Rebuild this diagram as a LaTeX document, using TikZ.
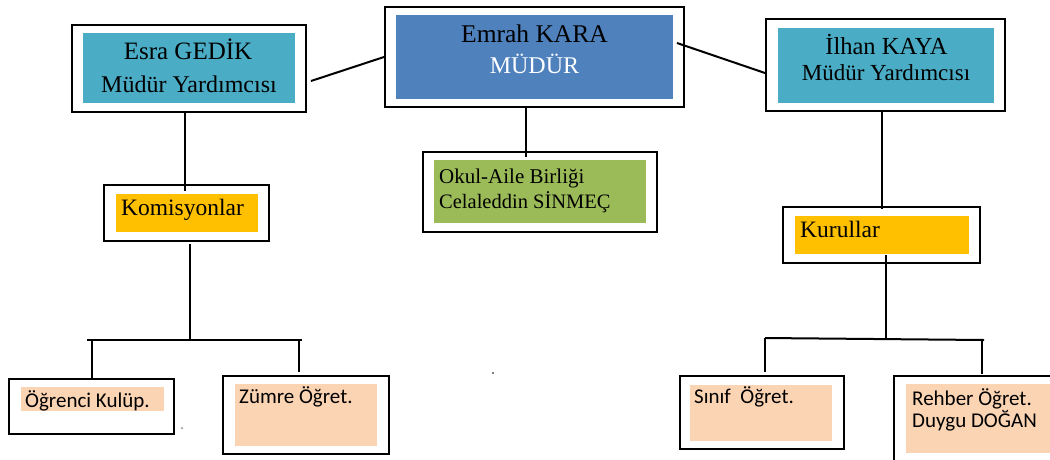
\documentclass[tikz,border=0pt]{standalone}
\usepackage{fontspec}
\setmainfont{Liberation Serif}
\newfontfamily\cambf{Liberation Serif}
\newfontfamily\calibf{Carlito}
\usetikzlibrary{calc}
\definecolor{teal1}{HTML}{4BACC6}
\definecolor{blue1}{HTML}{4F81BD}
\definecolor{green1}{HTML}{9BBB59}
\definecolor{gold1}{HTML}{FFC000}
\definecolor{peach1}{HTML}{FBD4B4}
\tikzset{
  outerbox/.style={draw=black, line width=2pt, fill=white, inner sep=0pt},
  conn/.style={draw=black, line width=2pt},
  lbl/.style={anchor=base, inner sep=0pt, text=black},
  lbll/.style={anchor=base west, inner sep=0pt, text=black},
}
\begin{document}
\begin{tikzpicture}[x=1pt,y=-1pt]
\useasboundingbox (0,0) rectangle (1050,459);
\fill[white] (0,0) rectangle (1050,459);

% outer boxes
\node[outerbox, minimum width=234pt, minimum height=87pt] (esra) at (189,68.5) {};
\node[outerbox, minimum width=299pt, minimum height=100pt] (emrah) at (534.5,57) {};
\node[outerbox, minimum width=239pt, minimum height=92pt] (ilhan) at (885.5,65) {};
\node[outerbox, minimum width=165pt, minimum height=56pt] (komis) at (186.5,213) {};
\node[outerbox, minimum width=234pt, minimum height=80pt] (okul) at (540,192) {};
\node[outerbox, minimum width=197pt, minimum height=56pt] (kurul) at (881.5,235) {};
\node[outerbox, minimum width=165pt, minimum height=55pt] (ogr) at (91.5,406.5) {};
\node[outerbox, minimum width=166pt, minimum height=78pt] (zumre) at (306,415) {};
\node[outerbox, minimum width=164pt, minimum height=73pt] (sinif) at (762,412.5) {};
\node[outerbox, minimum width=170pt, minimum height=100pt] (rehber) at (979,426) {};

% inner fills
\fill[teal1] (83,33) rectangle (295,103);
\fill[blue1] (396,15) rectangle (673,99);
\fill[teal1] (778,28) rectangle (994,103);
\fill[gold1] (116,194) rectangle (258,232);
\fill[green1] (434,160) rectangle (646,223);
\fill[gold1] (795,216) rectangle (969,254);
\fill[peach1] (21,387) rectangle (164,411);
\fill[peach1] (235,384) rectangle (377,446);
\fill[peach1] (690,385) rectangle (832,441);
\fill[peach1] (906,384) rectangle (1052,453);

% texts
\node[lbl, font=\cambf\fontsize{25}{30}\selectfont] (t1) at (188,59) {Esra GEDİK};
\node[lbl, font=\cambf\fontsize{24}{29}\selectfont] (t2) at (189,92) {Müdür Yardımcısı};
\node[lbl, font=\cambf\fontsize{25.5}{30}\selectfont] (t3) at (534.5,42) {Emrah KARA};
\node[lbl, font=\cambf\fontsize{24}{29}\selectfont, text=white] (t4) at (534.5,73) {MÜDÜR};
\node[lbl, font=\cambf\fontsize{24.5}{29}\selectfont] (t5) at (886.5,54) {İlhan KAYA};
\node[lbl, font=\cambf\fontsize{23}{28}\selectfont] (t6) at (886,80) {Müdür Yardımcısı};
\node[lbll, font=\cambf\fontsize{23.5}{28}\selectfont] (t7) at (121,215) {Komisyonlar};
\node[lbll, font=\cambf\fontsize{21}{25}\selectfont] (t8) at (439,183) {Okul-Aile Birliği};
\node[lbll, font=\cambf\fontsize{20.5}{25}\selectfont] (t9) at (439,208) {Celaleddin SİNMEÇ};
\node[lbll, font=\cambf\fontsize{23.5}{28}\selectfont] (t10) at (800,237) {Kurullar};
\node[lbll, font=\calibf\fontsize{21}{25}\selectfont] (t11) at (25,407) {Öğrenci Kulüp.};
\node[lbll, font=\calibf\fontsize{21}{25}\selectfont] (t12) at (239,403) {Zümre Öğret.};
\node[lbll, font=\calibf\fontsize{21}{25}\selectfont] (t13) at (694,403) {Sınıf~~Öğret.};
\node[lbll, font=\calibf\fontsize{21}{25}\selectfont] (t14) at (912,405) {Rehber Öğret.};
\node[lbll, font=\calibf\fontsize{21}{25}\selectfont] (t15) at (912,427) {Duygu DOĞAN};

% junction coordinates
\coordinate (kL) at (87,340);
\coordinate (kR) at (302,340);
\coordinate (kM) at (190,340);
\coordinate (rL) at (765,338);
\coordinate (rR) at (984,340);
\coordinate (rM) at (886,338);

% connectors
\draw[conn] ([xshift=4pt,yshift=-12.5pt]esra.east) -- (emrah.west);
\draw[conn] ([xshift=-8pt,yshift=14pt]emrah.east) -- ([yshift=-8pt]ilhan.west);
\draw[conn] ([xshift=-4pt]esra.south) -- ([xshift=-1.5pt,yshift=-7pt]komis.north);
\draw[conn] ([xshift=-8.5pt]emrah.south) -- ([xshift=-14pt,yshift=-6pt]okul.north);
\draw[conn] ([xshift=-3.5pt]ilhan.south) -- ([xshift=0.5pt,yshift=-3pt]kurul.north);

\draw[conn] ([xshift=3.5pt,yshift=-2pt]komis.south) -- (kM);
\draw[conn] (kL) -- (kR);
\draw[conn] (ogr.north |- kL) -- (ogr.north);
\draw[conn] ([xshift=-7pt]zumre.north |- kR) -- ([xshift=-7pt,yshift=3pt]zumre.north);

\draw[conn] ([xshift=4.5pt,yshift=9pt]kurul.south) -- (rM);
\draw[conn] (rL) -- (rR);
\draw[conn] ([xshift=3pt]sinif.north |- rL) -- ([xshift=3pt,yshift=3pt]sinif.north);
\draw[conn] (982,340) -- (982,374);

% stray dots
\fill[gray] (182,428) circle (1pt);
\fill[black] (493,373) circle (0.9pt);
\end{tikzpicture}
\end{document}
